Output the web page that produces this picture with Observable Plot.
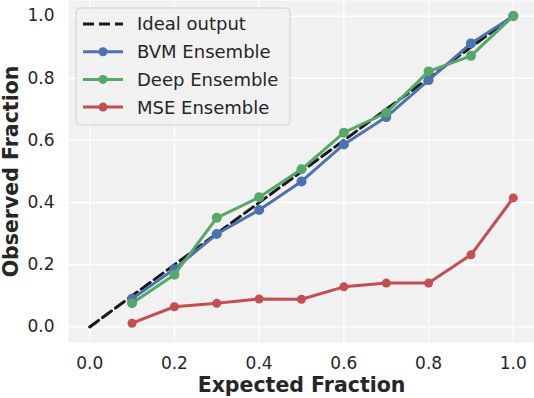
<!DOCTYPE html>
<html><head><meta charset="utf-8">
<script src="https://cdn.jsdelivr.net/npm/d3@7"></script>
<script src="https://cdn.jsdelivr.net/npm/@observablehq/plot@0.6"></script>
<style>body{margin:0;background:#fff} svg{display:block}</style>
</head><body><div id="chart"></div>
<script>
const expected = [0.1, 0.2, 0.3, 0.4, 0.5, 0.6, 0.7, 0.8, 0.9, 1.0];
const bvm  = [0.091, 0.186, 0.299, 0.376, 0.468, 0.587, 0.675, 0.794, 0.912, 1.0];
const deep = [0.076, 0.168, 0.351, 0.417, 0.507, 0.625, 0.689, 0.822, 0.872, 1.0];
const mse  = [0.012, 0.065, 0.076, 0.090, 0.089, 0.129, 0.141, 0.141, 0.232, 0.415];
const idealX = [0, 1];
const idealY = [0, 1];
const seriesNames = ["Ideal output", "BVM Ensemble", "Deep Ensemble", "MSE Ensemble"];
const seriesColors = ["#1a1a1a", "#4c72b0", "#55a868", "#c44e52"];
const xTicks = [0, 0.2, 0.4, 0.6, 0.8, 1.0];
const yTicks = [0, 0.2, 0.4, 0.6, 0.8, 1.0];
const xLabel = "Expected Fraction";
const yLabel = "Observed Fraction";

const ideal = idealX.map((x, i) => ({x, y: idealY[i]}));
const series = [bvm, deep, mse].map((vals, s) =>
  expected.map((x, i) => ({x, y: vals[i], name: seriesNames[s + 1]})));
const fmt = d3.format(".1f");

const lineMarks = series.flatMap((data, s) => [
  Plot.line(data, {x: "x", y: "y", stroke: seriesColors[s + 1], strokeWidth: 3}),
  Plot.dot(data, {x: "x", y: "y", fill: seriesColors[s + 1], r: s === 2 ? 4.5 : 5, stroke: null})
]);

const chart = Plot.plot({
  width: 534, height: 398,
  marginLeft: 68, marginRight: 0, marginTop: 0, marginBottom: 56,
  x: {domain: [-0.05, 1.05]},
  y: {domain: [-0.05, 1.05]},
  style: {fontFamily: "DejaVu Sans", fontSize: "17px", color: "#262626", background: "transparent"},
  marks: [
    Plot.frame({fill: "#f1f1f1", stroke: null}),
    Plot.gridX(xTicks, {stroke: "#ffffff", strokeOpacity: 1, strokeWidth: 1.3}),
    Plot.gridY(yTicks, {stroke: "#ffffff", strokeOpacity: 1, strokeWidth: 1.3}),
    Plot.axisX(xTicks, {tickSize: 0, tickPadding: 14, tickFormat: fmt, label: null, fontSize: 17, fill: "#262626"}),
    Plot.axisY(yTicks, {tickSize: 0, tickPadding: 14, tickFormat: fmt, label: null, fontSize: 17, fill: "#262626"}),
    Plot.line(ideal, {x: "x", y: "y", stroke: seriesColors[0], strokeWidth: 3, strokeDasharray: "11,5"}),
    ...lineMarks,
    Plot.text([xLabel], {frameAnchor: "bottom", dy: 49, textAnchor: "middle", fontWeight: "bold", fontSize: 20.5, fill: "#262626"}),
    Plot.text([yLabel], {frameAnchor: "left", dx: -57, textAnchor: "middle", rotate: -90, fontWeight: "bold", fontSize: 20.5, fill: "#262626"})
  ]
});
document.getElementById("chart").appendChild(chart);

// legend
const svg = d3.select(chart);
const lg = svg.append("g").attr("font-family", "DejaVu Sans").attr("font-size", 18).attr("text-anchor", "start");
lg.append("rect").attr("x", 76).attr("y", 8).attr("width", 214).attr("height", 117)
  .attr("rx", 4).attr("fill", "#f1f1f1").attr("fill-opacity", 0.85).attr("stroke", "#d0d0d0");
seriesNames.forEach((name, i) => {
  const cy = 24 + i * 27.7;
  const l = lg.append("line").attr("x1", 83).attr("x2", 123).attr("y1", cy).attr("y2", cy)
    .attr("stroke", seriesColors[i]).attr("stroke-width", 3);
  if (i === 0) l.attr("stroke-dasharray", "11,5");
  else lg.append("circle").attr("cx", 103).attr("cy", cy).attr("r", 4.5).attr("fill", seriesColors[i]);
  lg.append("text").attr("x", 137).attr("y", cy).attr("dy", "0.36em").attr("fill", "#262626").attr("text-anchor", "start").text(name);
});
</script>
</body></html>
